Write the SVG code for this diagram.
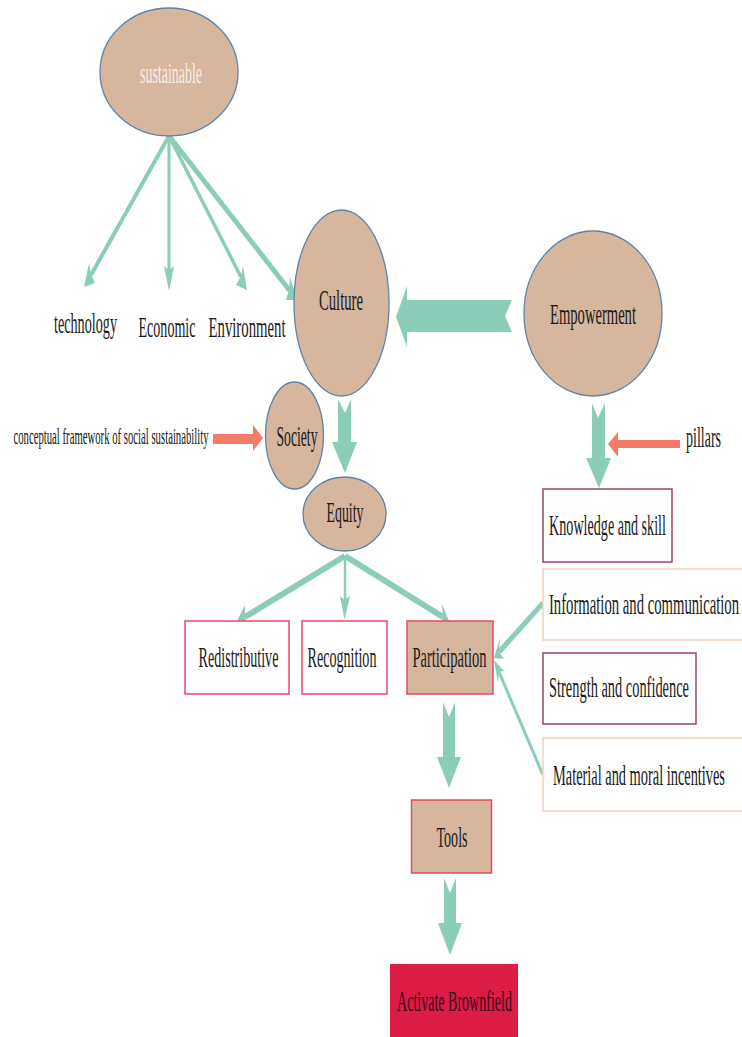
<svg xmlns="http://www.w3.org/2000/svg" width="742" height="1037" viewBox="0 0 742 1037">
<style>
text{font-family:"Liberation Serif","Times New Roman",serif;font-size:30px;fill:#1a1a1a;text-anchor:middle}
.n{fill:#d6b69d;stroke:#5b84ac;stroke-width:1.3}
.b{fill:#fff;stroke-width:1.5}
.r{stroke:#e9486b}
.p{stroke:#96446c}
.t{stroke:#efd5c3}
.f{fill:#d6b69d}
.a{fill:#8ccdba;stroke:none}
.s{fill:#f47b68;stroke:none}
.l{stroke:#8ccdba;fill:none}
</style>
<rect width="742" height="1037" fill="#fff"/>
<g id="connectors">
<path class="l" stroke-width="4" d="M169 136L91 275"/><path class="a" d="M84 287L89 263L91 274L95 283Z"/>
<path class="l" stroke-width="3" d="M169 136V275"/><path class="a" d="M169 291L164 266L169 270L174 266Z"/>
<path class="l" stroke-width="3.500" d="M169 136L241 277"/><path class="a" d="M247 290L243 266L241 276L236 285Z"/>
<path class="l" stroke-width="5" d="M169 136L290 291"/><path class="a" d="M297 300L290 277L289 290L286 300Z"/>
<path class="a" d="M396 317L407 286V300H512L505 316L512 332H407V347Z"/>
<path class="a" d="M338 399L345 413L351 399V442H357L345 473L332 442H338Z"/>
<path class="a" d="M592 403L598 418L605 403V458H611L599 488L586 458H592Z"/>
<path class="s" d="M608 444L618 432V440H680V448H618V457Z"/>
<path class="s" d="M263 438L253 425V434H213V444H253V451Z"/>
<path class="l" stroke-width="6" d="M345 556L245 617"/><path class="a" d="M237 621L245 605L245 617L248 627Z"/>
<path class="l" stroke-width="2.500" d="M345 556V605"/><path class="a" d="M344.500 620L340 596L344.500 600L350 596Z"/>
<path class="l" stroke-width="6" d="M345 556L443 617"/><path class="a" d="M449 621L442 604L443 617L439 627Z"/>
<path class="l" stroke-width="5" d="M543 603L499 652"/><path class="a" d="M494 658L500 638L499 652L504 659Z"/>
<path class="l" stroke-width="3" d="M543 775L499 672"/><path class="a" d="M494 660L504 671L499 672L498 683Z"/>
<path class="a" d="M443 702L449 717L455 702V757H461L449 788L437 757H443Z"/>
<path class="a" d="M444 878L450 893L456 878V923H462L450 955L438 923H444Z"/>
</g>
<g id="sustainable"><ellipse class="n" cx="169" cy="72" rx="69" ry="64"/><text transform="matrix(.465 0 0 1 171 83)" style="fill:#f6efe8">sustainable</text></g>
<g id="technology"><text transform="matrix(.4725 0 0 1 85.500 333)">technology</text></g>
<g id="economic"><text transform="matrix(.4686 0 0 1 167 337)">Economic</text></g>
<g id="environment"><text transform="matrix(.4915 0 0 1 247 337)">Environment</text></g>
<g id="culture"><ellipse class="n" cx="341.500" cy="303" rx="47.500" ry="93"/><text transform="matrix(.489 0 0 1 341 310)">Culture</text></g>
<g id="empowerment"><ellipse class="n" cx="593" cy="313.500" rx="69" ry="82.500"/><text transform="matrix(.487 0 0 1 593 324)">Empowerment</text></g>
<g id="framework"><text transform="matrix(.466 0 0 1 111 444)" style="font-size:23px">conceptual framework of social sustainability</text></g>
<g id="society"><ellipse class="n" cx="294.500" cy="435.500" rx="29" ry="53.500"/><text transform="matrix(.456 0 0 1 297 446)">Society</text></g>
<g id="equity"><ellipse class="n" cx="344.500" cy="514" rx="41.500" ry="37"/><text transform="matrix(.4625 0 0 1 345 522)">Equity</text></g>
<g id="pillars"><text transform="matrix(.467 0 0 1 703.500 447)">pillars</text></g>
<g id="knowledge"><rect class="b p" x="543" y="489" width="129" height="73"/><text transform="matrix(.471 0 0 1 607.500 535)">Knowledge and skill</text></g>
<g id="information"><rect class="b t" x="543" y="569" width="210" height="71"/><text transform="matrix(.49 0 0 1 644 614)">Information and communication</text></g>
<g id="strength"><rect class="b p" x="543" y="653" width="153" height="71"/><text transform="matrix(.48 0 0 1 619 697)">Strength and confidence</text></g>
<g id="material"><rect class="b t" x="543" y="738" width="210" height="73"/><text transform="matrix(.479 0 0 1 639 785)">Material and moral incentives</text></g>
<g id="redistributive"><rect class="b r" x="185" y="621" width="104" height="73"/><text transform="matrix(.47 0 0 1 238.500 667)">Redistributive</text></g>
<g id="recognition"><rect class="b r" x="302" y="621" width="85" height="73"/><text transform="matrix(.47 0 0 1 342 667)">Recognition</text></g>
<g id="participation"><rect class="f r" stroke-width="1.500" x="407" y="621" width="86" height="73"/><text transform="matrix(.483 0 0 1 449.500 667)">Participation</text></g>
<g id="tools"><rect class="f r" stroke-width="1.500" x="411.500" y="800" width="80" height="73"/><text transform="matrix(.468 0 0 1 452 847)">Tools</text></g>
<g id="brownfield"><rect x="390" y="964" width="128" height="73" fill="#dc1b46"/><text transform="matrix(.468 0 0 1 454.500 1011)" style="fill:#3a0a18">Activate Brownfield</text></g>
</svg>
